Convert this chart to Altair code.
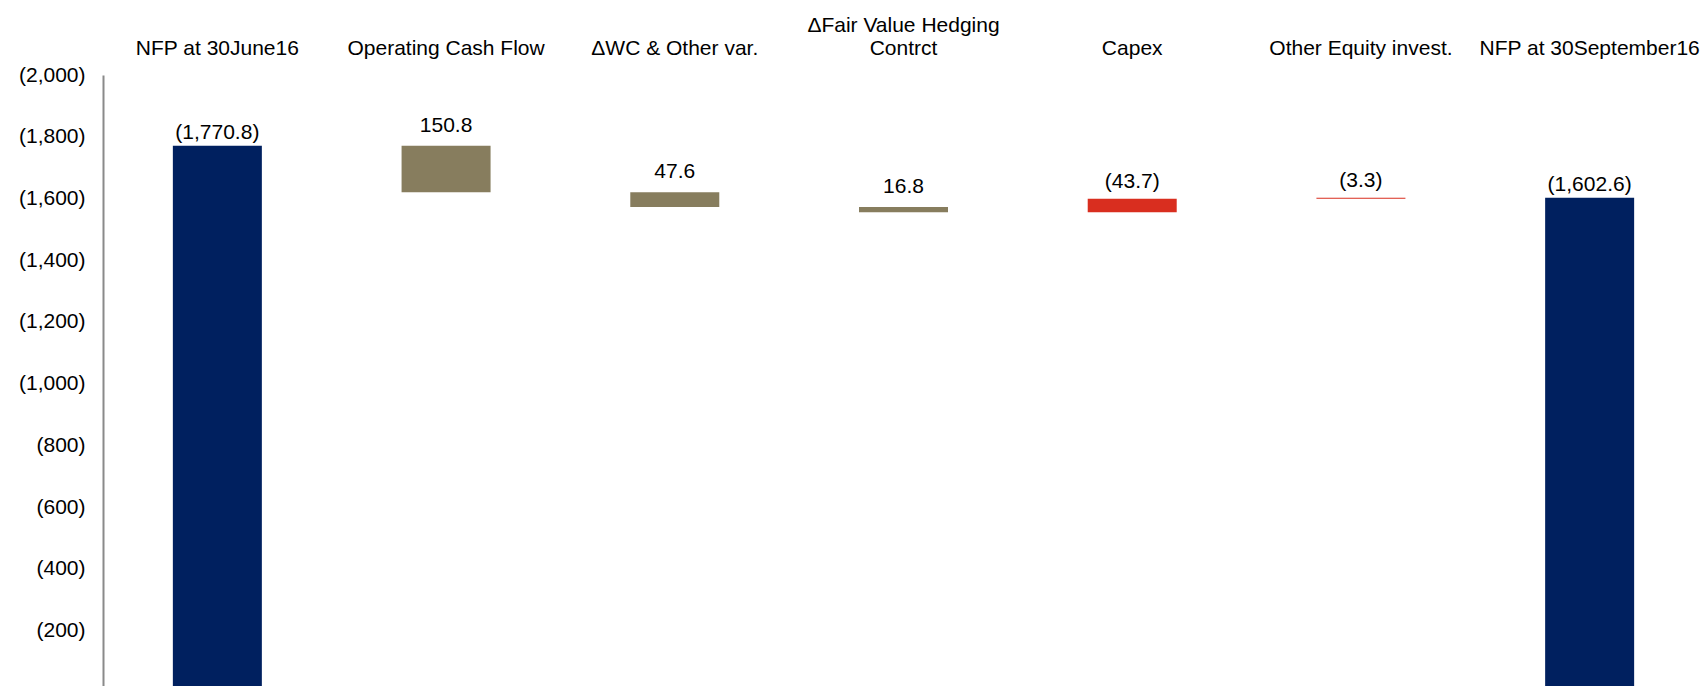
import altair as alt
import pandas as pd

cat_line1 = ["", "", "", "ΔFair Value Hedging", "", "", ""]
cat_line2 = ["NFP at 30June16", "Operating Cash Flow", "ΔWC & Other var.",
             "Contrct", "Capex", "Other Equity invest.", "NFP at 30September16"]
categories = [f"{a} {b}".strip() for a, b in zip(cat_line1, cat_line2)]
values = [-1770.8, 150.8, 47.6, 16.8, -43.7, -3.3, -1602.6]
kinds = ["total", "pos", "pos", "pos", "neg", "neg", "total"]
y_ticks = [200, 400, 600, 800, 1000, 1200, 1400, 1600, 1800, 2000]

rows = []
level = 0.0
for c, l1, l2, v, k in zip(categories, cat_line1, cat_line2, values, kinds):
    if k == "total":
        lo, hi = 0.0, abs(v)
        level = abs(v)
    else:
        new = level - v
        lo, hi = min(level, new), max(level, new)
        level = new
    label = f"({abs(v):,.1f})" if v < 0 else f"{v:,.1f}"
    rows.append(dict(cat=c, l1=l1, l2=l2, lo=lo, hi=hi, kind=k, label=label))
df = pd.DataFrame(rows)

FONT = "Liberation Sans, Arial"
FS = 21

x = alt.X("cat:N", sort=categories,
          scale=alt.Scale(paddingInner=0, paddingOuter=0),
          axis=None)

yscale = alt.Scale(domain=[20.8, 2000], nice=False, zero=False)

bars = alt.Chart(df).mark_bar(size=89, clip=True).encode(
    x=x,
    y=alt.Y("lo:Q", scale=yscale,
            axis=alt.Axis(title=None, values=y_ticks, grid=False, ticks=False,
                          domainColor="#8a8a8a", domainWidth=2,
                          labelPadding=18, labelFontSize=FS, labelColor="black",
                          labelFont=FONT,
                          labelExpr="'(' + format(datum.value, ',') + ')'")),
    y2="hi:Q",
    color=alt.Color("kind:N",
                    scale=alt.Scale(domain=["total", "pos", "neg"],
                                    range=["#00205F", "#877D5E", "#D92E1F"]),
                    legend=None),
)

def vtext(filt, dy):
    return alt.Chart(df).transform_filter(filt).mark_text(
        baseline="alphabetic", dy=dy, fontSize=FS, font=FONT, color="black"
    ).encode(x=alt.X("cat:N", sort=categories), y=alt.Y("hi:Q", scale=yscale),
             text="label:N")

t_tot = vtext("datum.kind == 'total'", -7)
t_pos = vtext("datum.kind == 'pos'", -14)
t_neg = vtext("datum.kind == 'neg'", -11)

cat2 = alt.Chart(df).mark_text(
    baseline="alphabetic", fontSize=FS, font=FONT, color="black"
).encode(x=alt.X("cat:N", sort=categories), y=alt.value(-20), text="l2:N")

cat1 = alt.Chart(df).mark_text(
    baseline="alphabetic", fontSize=FS, font=FONT, color="black"
).encode(x=alt.X("cat:N", sort=categories), y=alt.value(-43.5), text="l1:N")

chart = alt.layer(bars, t_tot, t_pos, t_neg, cat2, cat1).properties(
    width=1601, height=611,
    autosize=alt.AutoSizeParams(type="none"),
    padding={"left": 103, "top": 75, "right": 0, "bottom": 0},
).configure_view(stroke=None)

chart.save("out.html", embed_options={"renderer": "svg", "actions": False})
